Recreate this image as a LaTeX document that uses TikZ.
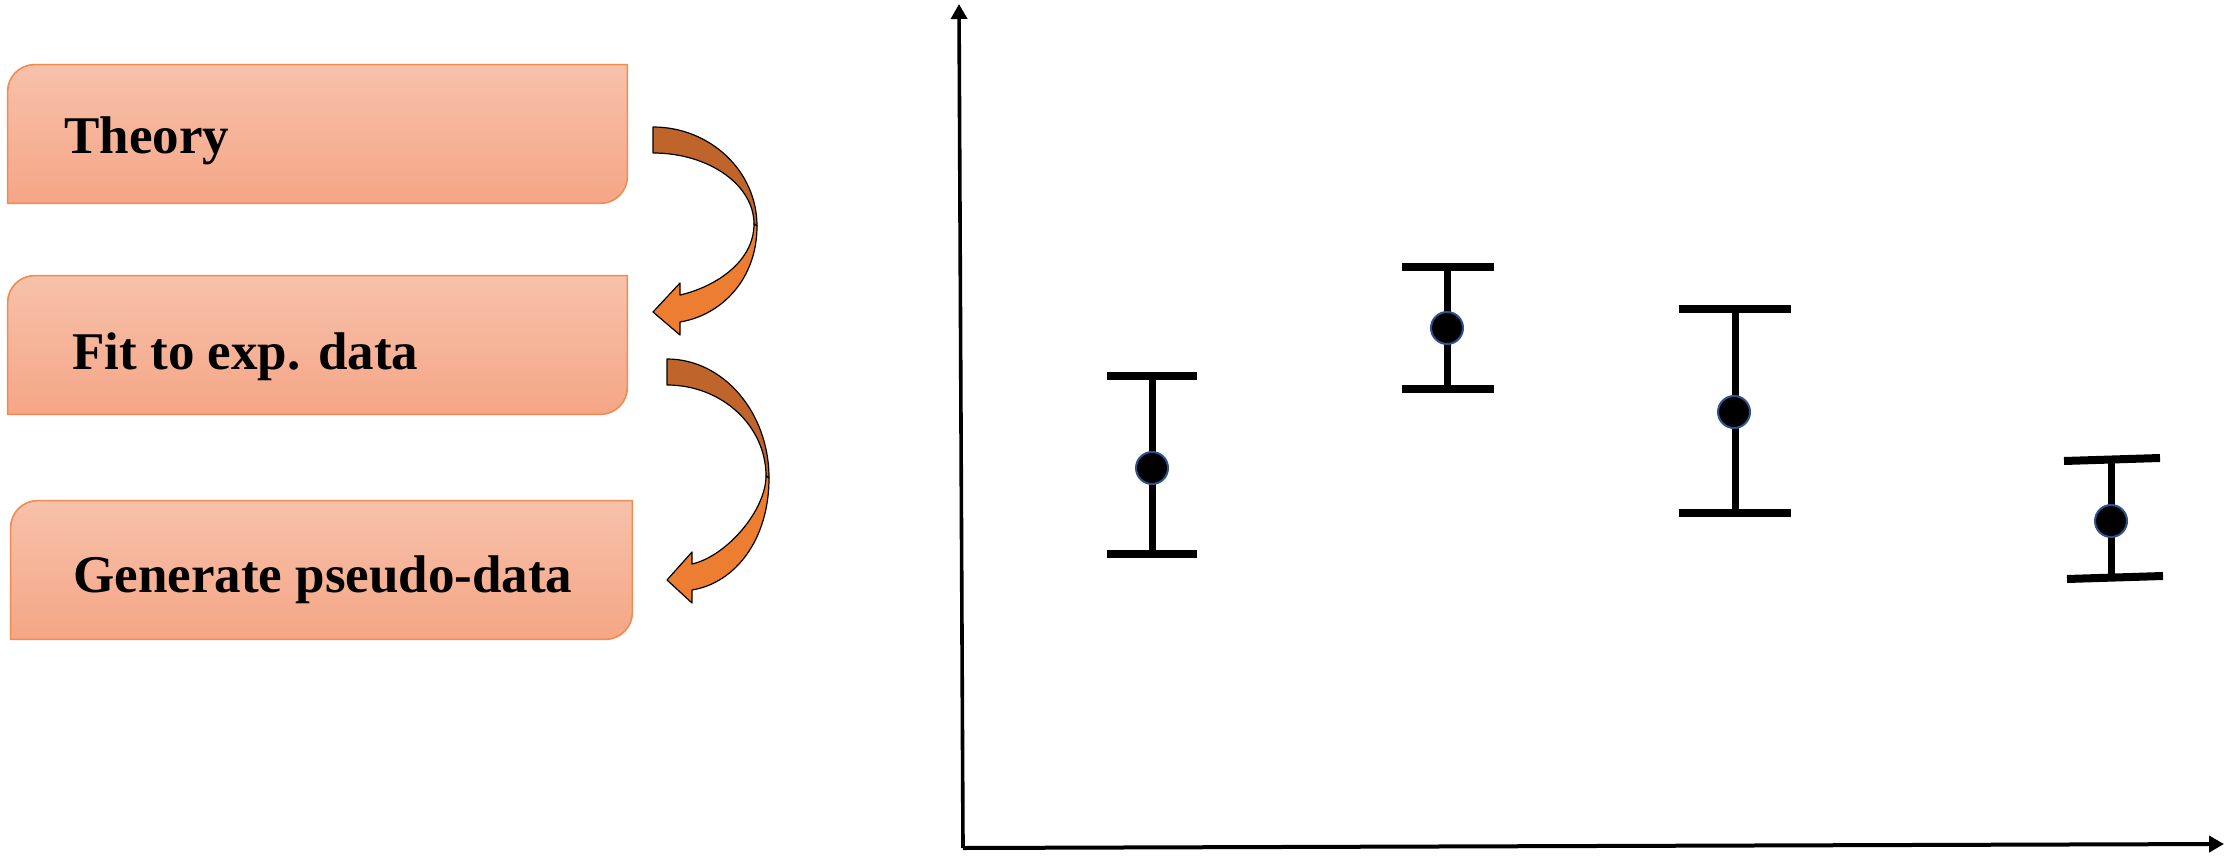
\documentclass[tikz,border=0pt]{standalone}
\usepackage{fontspec}
\setmainfont{Liberation Serif}
\usetikzlibrary{arrows.meta}
\definecolor{boxtop}{RGB}{247,193,170}
\definecolor{boxbot}{RGB}{245,166,134}
\definecolor{boxline}{RGB}{241,140,80}
\definecolor{arrdark}{RGB}{191,101,43}
\definecolor{arrlight}{RGB}{237,125,49}
\definecolor{dotline}{RGB}{47,82,143}
\newcommand\drawdiagbox[1]{%
  \draw[boxpaint] (#1.south west) -- ([yshift=-13.5pt]#1.north west)
    arc[start angle=180,end angle=90,radius=13.5pt] -- (#1.north east)
    -- ([yshift=13.5pt]#1.south east)
    arc[start angle=0,end angle=-90,radius=13.5pt] -- cycle;}
\begin{document}
\begin{tikzpicture}[x=0.5pt,y=-0.5pt,
  boxnode/.style={rectangle,inner sep=0pt,minimum width=309.5pt,minimum height=69pt},
  boxpaint/.style={top color=boxtop,bottom color=boxbot,draw=boxline,line width=0.8pt},
  lbl/.style={inner sep=0pt,anchor=base west,font=\fontsize{26.5}{30}\selectfont\bfseries},
  bandpaint/.style={draw=black,line width=0.6pt,line join=round},
  axisline/.style={line width=1.8pt,-{Triangle[width=8pt,length=7.5pt]}},
  capline/.style={line width=4pt,line cap=butt},
  barline/.style={line width=3.5pt},
  datapt/.style={circle,inner sep=0pt,minimum size=16pt,fill=black,draw=dotline,line width=1pt}]
\useasboundingbox (0,0) rectangle (2226,856);

% boxes
\node[boxnode] (b1) at (317.5,134) {};
\node[boxnode] (b2) at (317.5,345) {};
\node[boxnode,minimum width=310.5pt] (b3) at (321.5,570) {};
\drawdiagbox{b1}
\drawdiagbox{b2}
\drawdiagbox{b3}
\node[lbl] (t1) at (64,154) {Theory};
\node[lbl] (t2) at (72,369) {Fit to exp. data};
\node[lbl] (t3) at (73,592) {Generate pseudo-data};

% curved arrow 1
\filldraw[bandpaint,fill=arrdark] (653,127) .. controls (710,127) and (757,171) .. (757,226)
  -- (754,224) .. controls (754,185) and (709,153) .. (653,153) -- cycle;
\filldraw[bandpaint,fill=arrlight] (757,226) .. controls (757,279) and (722,315) .. (680,322)
  -- (680,335) -- (653,312) -- (680,283) -- (680,295)
  .. controls (715,287) and (754,262) .. (754,224) -- cycle;

% curved arrow 2
\filldraw[bandpaint,fill=arrdark] (667,359) .. controls (723,359) and (769,412) .. (769,478)
  -- (766,476) .. controls (766,426) and (722,385) .. (667,385) -- cycle;
\filldraw[bandpaint,fill=arrlight] (769,478) .. controls (769,540) and (735,583) .. (692,590)
  -- (692,603) -- (667,580) -- (692,552) -- (692,564)
  .. controls (727,556) and (766,510) .. (766,476) -- cycle;

% axes
\coordinate (o) at (963,848);
\coordinate (ytop) at (959,4);
\coordinate (xend) at (2224,844);
\draw[axisline] (o) -- (ytop);
\draw[axisline,line width=2pt] (o) -- (xend);

% error bars
\draw[capline] (1107,376) -- (1197,376);
\draw[capline] (1107,554) -- (1197,554);
\draw[barline] (1152,376) -- (1152,554);
\node[datapt] (p1) at (1152,468) {};

\draw[capline] (1402,267) -- (1494,267);
\draw[capline] (1402,389) -- (1494,389);
\draw[barline] (1447,267) -- (1447,389);
\node[datapt] (p2) at (1447,328) {};

\draw[capline] (1679,309) -- (1791,309);
\draw[capline] (1679,513) -- (1791,513);
\draw[barline] (1735,309) -- (1735,513);
\node[datapt] (p3) at (1734,412) {};

\draw[capline] (2064,461) -- (2160,458);
\draw[capline] (2067,579) -- (2163,576);
\draw[barline] (2111,460) -- (2111,578);
\node[datapt] (p4) at (2111,521) {};
\end{tikzpicture}
\end{document}
